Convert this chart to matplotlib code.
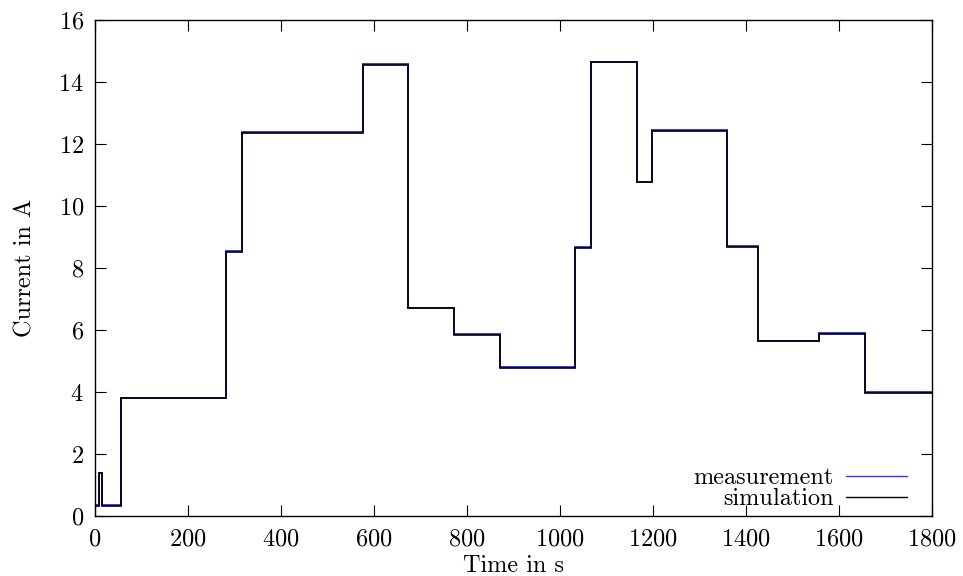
import numpy as np
import matplotlib.pyplot as plt

# step profile: switching times (s) and current levels (A)
t_switch = [0, 9, 16, 55, 282, 315, 577, 674, 772, 871, 1033, 1067, 1165,
            1198, 1359, 1426, 1558, 1655, 1800]
i_meas = [0.35, 1.40, 0.35, 3.82, 8.55, 12.38, 14.58, 6.72, 5.86, 4.80,
          8.68, 14.65, 10.78, 12.45, 8.70, 5.66, 5.89, 4.00]
i_sim = [0.33, 1.38, 0.33, 3.80, 8.53, 12.36, 14.56, 6.70, 5.84, 4.78,
         8.66, 14.63, 10.76, 12.43, 8.68, 5.64, 5.87, 3.98]

x_ticks = [0, 200, 400, 600, 800, 1000, 1200, 1400, 1600, 1800]
y_ticks = [0, 2, 4, 6, 8, 10, 12, 14, 16]

plt.rcParams['font.family'] = ['cmr10', 'DejaVu Serif']
plt.rcParams['axes.formatter.use_mathtext'] = True
fs = 17.5

fig = plt.figure(figsize=(9.63, 5.76), dpi=100)
ax = fig.add_axes([0.0987, 0.1042, 0.8691, 0.8611])

ax.stairs(i_meas, t_switch, color='#3535ff', linewidth=1.4, baseline=None,
          label='measurement')
ax.stairs(i_sim, t_switch, color='black', linewidth=1.2, baseline=None,
          label='simulation')

ax.set_xlim(0, 1800)
ax.set_ylim(0, 16)
ax.set_xticks(x_ticks)
ax.set_yticks(y_ticks)
ax.tick_params(direction='in', length=8, width=0.8, top=True, right=True,
               labelsize=fs)
ax.tick_params(axis='x', pad=9)
ax.tick_params(axis='y', pad=8)
for s in ax.spines.values():
    s.set_linewidth(1.0)

ax.set_xlabel('Time in s', fontsize=fs, labelpad=3)
ax.set_ylabel('Current in A', fontsize=fs, labelpad=16)

leg = ax.legend(loc='lower right', bbox_to_anchor=(0.970, 0.012),
                frameon=False, markerfirst=False, handlelength=2.5,
                labelspacing=-0.05, handletextpad=0.5, borderpad=0,
                borderaxespad=0, fontsize=fs)
for h in leg.get_lines():
    h.set_linewidth(1.0)

fig.savefig('out.png', dpi=100)
